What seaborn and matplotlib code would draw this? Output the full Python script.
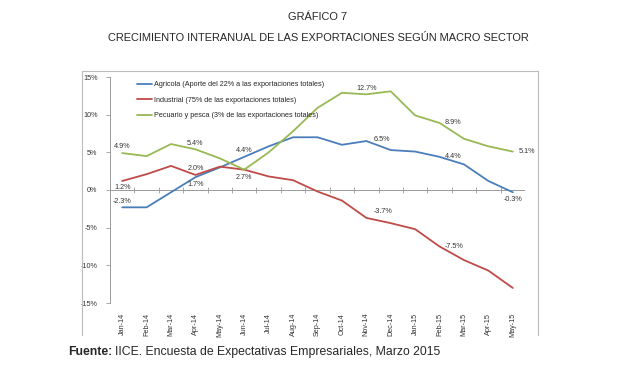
import numpy as np
import pandas as pd
import matplotlib
matplotlib.use('Agg')
import matplotlib.pyplot as plt
import seaborn as sns

# data
meses = ['Jan-14', 'Feb-14', 'Mar-14', 'Apr-14', 'May-14', 'Jun-14', 'Jul-14', 'Aug-14', 'Sep-14',
         'Oct-14', 'Nov-14', 'Dec-14', 'Jan-15', 'Feb-15', 'Mar-15', 'Apr-15', 'May-15']
agricola = [-2.3, -2.3, -0.3, 1.7, 3.0, 4.4, 5.8, 7.0, 7.0, 6.0, 6.5, 5.3, 5.1, 4.4, 3.4, 1.2, -0.3]
industrial = [1.2, 2.1, 3.2, 2.0, 3.1, 2.7, 1.8, 1.3, -0.2, -1.4, -3.7, -4.4, -5.2, -7.5, -9.3, -10.7, -13.0]
pecuario = [4.9, 4.5, 6.1, 5.4, 4.2, 2.7, 5.0, 7.8, 10.9, 12.9, 12.7, 13.1, 9.9, 8.9, 6.8, 5.8, 5.1]
yticks = [-15, -10, -5, 0, 5, 10, 15]

nombres = ['Agricola (Aporte del 22% a las exportaciones totales)',
           'Industrial (75% de las exportaciones totales)',
           'Pecuario y pesca (3% de las exportaciones totales)']
colores = ['#4A7EBB', '#BE4B48', '#98B954']

# which points get a label: (series, index, dx, dy, ha)
etiquetas = [
    (2, 0, 0, 2, 'center'), (1, 0, 0, -2, 'center'), (0, 0, 0, 2, 'center'),
    (1, 3, 0, 2, 'center'), (0, 3, 0, -3, 'center'), (2, 3, 0, 2, 'center'),
    (0, 5, 0, 2, 'center'), (2, 5, 0, -3, 'center'),
    (0, 10, 5, 1, 'left'), (2, 10, 0, 2, 'center'), (1, 10, 5, 2, 'left'),
    (2, 13, 4, 0, 'left'), (0, 13, 4, 0, 'left'), (1, 13, 4, 0, 'left'),
    (2, 16, 4, 0, 'left'), (0, 16, 0, -3, 'center'),
]

df = pd.DataFrame({'x': np.arange(len(meses)), 'agricola': agricola,
                   'industrial': industrial, 'pecuario': pecuario})
series = ['agricola', 'industrial', 'pecuario']

sns.set_style('white')
plt.rcParams['font.family'] = ['Liberation Sans', 'DejaVu Sans']

fig = plt.figure(figsize=(6.34, 3.77), dpi=100)
ax = fig.add_axes([110 / 634, 1 - 303 / 377, 415 / 634, 226 / 377])

for s, nombre, c in zip(series, nombres, colores):
    sns.lineplot(data=df, x='x', y=s, ax=ax, color=c, linewidth=1.3, label=nombre)

ax.set_xlim(-0.5, len(meses) - 0.5)
ax.set_ylim(-15, 15)
ax.set_yticks(yticks)
ax.set_yticklabels(['%d%%' % v for v in yticks], fontsize=5.2, color='#333333')
ax.set_xticks(df['x'])
ax.set_xticklabels(meses, rotation=90, fontsize=5.2, color='#333333')
ax.set_xlabel('')
ax.set_ylabel('')
ax.tick_params(axis='x', length=0, pad=7)
ax.tick_params(axis='y', length=3, width=0.6, color='#999999', pad=6, left=True, direction='out')
for side in ['top', 'right', 'bottom']:
    ax.spines[side].set_visible(False)
ax.spines['left'].set_color('#999999')
ax.spines['left'].set_linewidth(0.7)

# category axis crossing at zero with small tick marks
ax.axhline(0, color='#999999', linewidth=0.7, zorder=1)
limites = np.arange(len(meses) + 1) - 0.5
ax.vlines(limites, -0.35, 0.35, color='#999999', linewidth=0.6, zorder=1)

for si, i, dx, dy, ha in etiquetas:
    v = df[series[si]].iloc[i]
    if dy > 1:
        va = 'bottom'
    elif dy < -1:
        va = 'top'
    else:
        va = 'center'
    ax.annotate('%.1f%%' % v, (i, v), xytext=(dx, dy), textcoords='offset points',
                ha=ha, va=va, fontsize=5.2, color='#333333')

ax.legend(loc='upper left', bbox_to_anchor=(0.055, 1.0), frameon=False, fontsize=5.2,
          handlelength=2.0, labelspacing=1.15, handletextpad=0.3, borderaxespad=0.2)

# outer chart frame
marco = dict(color='#BBBBBB', linewidth=0.8, transform=fig.transFigure)
x0, x1 = 82 / 634, 538 / 634
y0, y1 = 1 - 335 / 377, 1 - 71 / 377
fig.add_artist(plt.Line2D([x0, x0], [y0, y1], **marco))
fig.add_artist(plt.Line2D([x0, x1], [y1, y1], **marco))
fig.add_artist(plt.Line2D([x1, x1], [y0, y1], **marco))

fig.text(318 / 634, 1 - 17 / 377, 'GRÁFICO 7', ha='center', va='center', fontsize=7.9)
fig.text(318 / 634, 1 - 38 / 377, 'CRECIMIENTO INTERANUAL DE LAS EXPORTACIONES SEGÚN MACRO SECTOR',
         ha='center', va='center', fontsize=7.9)

# source line, bold prefix
t1 = fig.text(68 / 634, 1 - 352 / 377, 'Fuente:', ha='left', va='center', fontsize=8.8, weight='bold')
fig.canvas.draw()
bb = t1.get_window_extent()
fig.text(bb.x1 / fig.bbox.width + 3 / 634, 1 - 352 / 377,
         'IICE. Encuesta de Expectativas Empresariales, Marzo 2015',
         ha='left', va='center', fontsize=8.8)

fig.savefig('out.png', dpi=100)
